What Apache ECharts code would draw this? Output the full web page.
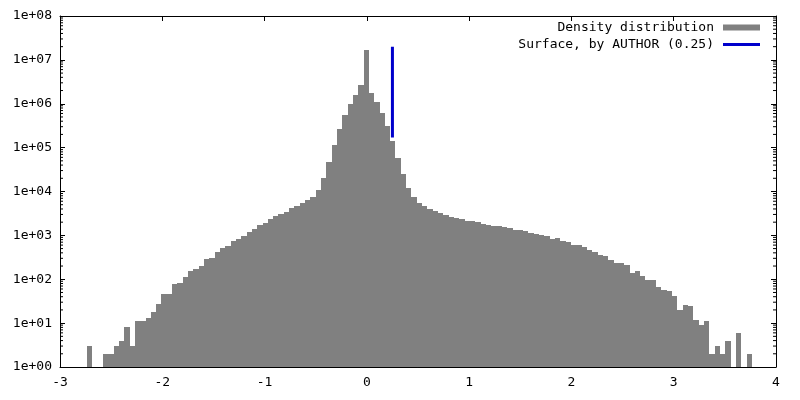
<!DOCTYPE html>
<html>
<head>
<meta charset="utf-8">
<script src="https://cdn.jsdelivr.net/npm/echarts@6/dist/echarts.min.js"></script>
<style>
  html, body { margin: 0; padding: 0; background: #fff; }
  #chart { width: 800px; height: 400px; }
</style>
</head>
<body>
<div id="chart"></div>
<script>
// histogram bins: left edge of first bin and bin width
var binStart = -2.736;
var binWidth = 0.052;
// counts per bin (0 = empty bin)
var binCounts = [
    3, 0, 0, 2, 2, 3, 4, 8, 3, 11,
    11, 13, 18, 27, 46, 46, 78, 83, 112, 154,
    171, 200, 289, 305, 418, 515, 573, 745, 827, 967,
    1194, 1397, 1725, 1915, 2362, 2762, 3068, 3409, 4207, 4675,
    5472, 6400, 7500, 10800, 20300, 47000, 115000, 266000, 554000, 987000,
    1580000, 2670000, 16800000, 1760000, 1100000, 615000, 311000, 142000, 58000, 25000,
    12000, 7500, 5470, 4675, 3990, 3595, 3236, 2914, 2625, 2489,
    2362, 2128, 2128, 2018, 1816, 1725, 1637, 1637, 1553, 1472,
    1327, 1327, 1259, 1133, 1075, 1020, 967, 827, 871, 745,
    706, 604, 604, 543, 464, 418, 357, 339, 275, 235,
    235, 211, 139, 154, 119, 96, 96, 67, 57, 54,
    41, 20, 26, 25, 12, 9, 11, 2, 3, 2,
    4, 0, 6, 0, 2
];
// vertical marker
var surfaceX = 0.25;
var surfaceRange = [1.7e5, 2e7];

var xMin = -3, xMax = 4;
var yMin = 1, yMax = 1e8;

var fontFamily = 'DejaVu Sans Mono';

// histogram rows: [left, right, count]
var histData = [];
for (var i = 0; i < binCounts.length; i++) {
    histData.push([binStart + i * binWidth, binStart + (i + 1) * binWidth, binCounts[i]]);
}

// minor ticks of the log axis (2..9 per decade)
var minorTicks = [];
for (var d = 0; d < 8; d++) {
    for (var m = 2; m <= 9; m++) {
        minorTicks.push(m * Math.pow(10, d));
    }
}

function expLabel(v) {
    var e = Math.round(Math.log10(v));
    return '1e+' + (e < 10 ? '0' + e : e);
}

var myChart = echarts.init(document.getElementById('chart'));

var axisLine = { show: true, onZero: false, lineStyle: { color: '#000', width: 1 } };
var tick = { show: true, inside: true, length: 5, lineStyle: { color: '#000' } };
var label = { color: '#000', fontFamily: fontFamily, fontSize: 13 };
var legendText = { color: '#000', fontFamily: fontFamily, fontSize: 13, padding: [0, 4, 0, 0] };

var option = {
    animation: false,
    backgroundColor: '#fff',
    grid: { left: 60, right: 24, top: 16, bottom: 33 },
    legend: [
        {
            data: [{ name: 'Density distribution', icon: 'rect' }],
            right: 40, top: 21, padding: 0,
            itemWidth: 37, itemHeight: 6,
            align: 'right', selectedMode: false,
            textStyle: legendText
        },
        {
            data: [{ name: 'Surface, by AUTHOR (0.25)', icon: 'rect' }],
            right: 40, top: 38, padding: 0,
            itemWidth: 37, itemHeight: 3,
            align: 'right', selectedMode: false,
            textStyle: legendText
        }
    ],
    xAxis: [
        {
            type: 'value', min: xMin, max: xMax, interval: 1,
            axisLine: axisLine, axisTick: tick,
            axisLabel: Object.assign({ margin: 9 }, label),
            splitLine: { show: false }
        },
        {
            type: 'value', position: 'top', min: xMin, max: xMax, interval: 1,
            axisLine: axisLine, axisTick: tick,
            axisLabel: { show: false }, splitLine: { show: false }
        }
    ],
    yAxis: [
        {
            type: 'log', logBase: 10, min: yMin, max: yMax, position: 'left',
            axisLine: axisLine, axisTick: tick,
            axisLabel: Object.assign({ margin: 8, formatter: expLabel }, label),
            splitLine: { show: false }
        },
        {
            type: 'log', logBase: 10, min: yMin, max: yMax, position: 'right',
            axisLine: axisLine, axisTick: tick,
            axisLabel: { show: false }, splitLine: { show: false }
        }
    ],
    series: [
        {
            name: 'Density distribution',
            type: 'custom',
            itemStyle: { color: '#808080' },
            encode: { x: [0, 1], y: 2 },
            data: histData,
            renderItem: function (params, api) {
                var c = api.value(2);
                if (!(c > 0)) {
                    return null;
                }
                var p0 = api.coord([api.value(0), c]);
                var p1 = api.coord([api.value(1), yMin]);
                var x0 = Math.round(p0[0]), x1 = Math.round(p1[0]);
                var y0 = Math.round(p0[1]);
                return {
                    type: 'rect',
                    shape: { x: x0, y: y0, width: x1 - x0, height: p1[1] - y0 },
                    style: { fill: '#808080', stroke: null }
                };
            }
        },
        {
            name: 'Surface, by AUTHOR (0.25)',
            type: 'line',
            color: '#0000cc',
            showSymbol: false,
            symbol: 'none',
            lineStyle: { color: '#0000cc', width: 3 },
            data: [[surfaceX, surfaceRange[0]], [surfaceX, surfaceRange[1]]]
        },
        {
            // minor log ticks on left and right borders
            type: 'custom',
            silent: true,
            z: 5,
            data: minorTicks,
            encode: { y: 0 },
            renderItem: function (params, api) {
                var v = api.value(0);
                var l = api.coord([xMin, v]);
                var r = api.coord([xMax, v]);
                return {
                    type: 'group',
                    children: [
                        { type: 'line', shape: { x1: l[0], y1: l[1], x2: l[0] + 3, y2: l[1] }, style: { stroke: '#000', lineWidth: 1 } },
                        { type: 'line', shape: { x1: r[0], y1: r[1], x2: r[0] - 3, y2: r[1] }, style: { stroke: '#000', lineWidth: 1 } }
                    ]
                };
            }
        }
    ]
};

myChart.setOption(option);
</script>
</body>
</html>
